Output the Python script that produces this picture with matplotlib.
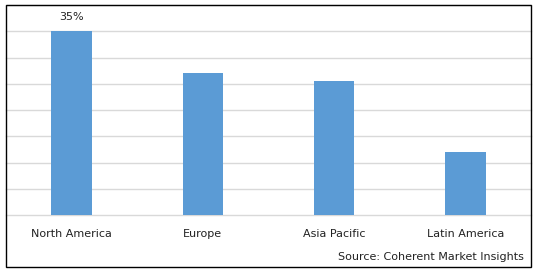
import matplotlib.pyplot as plt
from matplotlib.patches import Rectangle

regions = ['North America', 'Europe', 'Asia Pacific', 'Latin America']
shares = [35, 27, 25.5, 12]
shown_labels = ['35%', '', '', '']

fig = plt.figure(figsize=(5.38, 2.72), dpi=100)
W, H = 538, 272
ax = fig.add_axes([6 / W, (H - 215) / H, 525 / W, 210 / H])

x = range(len(regions))
ax.bar(x, shares, width=0.31, color='#5b9bd5', zorder=3)
ax.set_xlim(-0.5, len(regions) - 0.5)
ax.set_ylim(0, 40)
ax.set_yticks(range(0, 41, 5))
ax.yaxis.grid(True, color='#d9d9d9', linewidth=1, zorder=0)
for gl in ax.get_ygridlines():
    gl.set_clip_on(False)
ax.tick_params(left=False, bottom=False, labelleft=False, labelbottom=False)
for s in ax.spines.values():
    s.set_visible(False)

for i, name in enumerate(regions):
    ax.annotate(name, (i, 0), xytext=(0, -13.5), textcoords='offset points',
                ha='center', va='center', fontsize=8, color='#222222')
    if shown_labels[i]:
        ax.annotate(shown_labels[i], (i, shares[i]), xytext=(0, 10),
                    textcoords='offset points', ha='center', va='center',
                    fontsize=8, color='#222222')

fig.text(524 / W, 1 - 257 / H, 'Source: Coherent Market Insights',
         ha='right', va='center', fontsize=8, color='#222222')

fig.patches.append(Rectangle((6 / W, 1 - 267 / H), 525 / W, 262 / H,
                             transform=fig.transFigure, fill=False,
                             edgecolor='black', linewidth=1))

fig.savefig('out.png', dpi=100)
